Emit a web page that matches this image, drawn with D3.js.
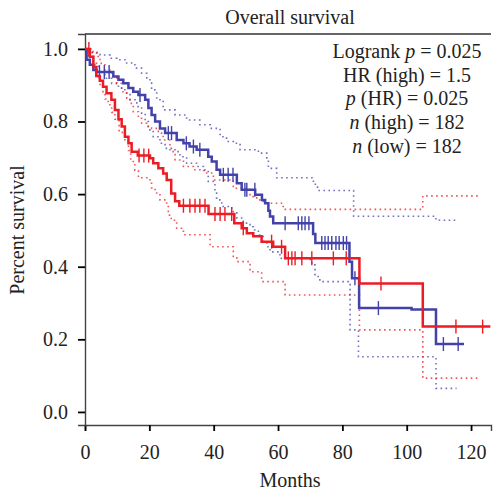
<!DOCTYPE html>
<html>
<head>
<meta charset="utf-8">
<script src="https://cdn.jsdelivr.net/npm/d3@7"></script>
<style>
  body { margin: 0; background: #fff; }
  svg { font-family: "Liberation Serif", "Times New Roman", serif; }
</style>
</head>
<body>
<div id="chart"></div>
<script>
const width = 494;
const height = 494;
const margin = { top: 34, right: 3, bottom: 69, left: 85 };
const fontSize = 20;

const xTicks = [0, 20, 40, 60, 80, 100, 120];
const yTicks = [0, 0.2, 0.4, 0.6, 0.8, 1.0];

// high group (red): [month, survival]
const highSteps = [[0,1],[1.5,0.978],[2.6,0.95],[3.5,0.925],[4.6,0.912],[5.6,0.896],[6.7,0.878],[8.2,0.86],[9.3,0.832],[10.4,0.806],[11.4,0.786],[12.4,0.758],[13.5,0.74],[14.5,0.717],[16.4,0.706],[20.2,0.699],[21.2,0.685],[22.8,0.671],[24.3,0.657],[25.4,0.639],[26.8,0.602],[28,0.58],[29.3,0.568],[38.4,0.545],[46.4,0.52],[48.7,0.506],[50.3,0.492],[52.3,0.484],[54.9,0.469],[58.5,0.455],[62.2,0.423],[85.3,0.354],[105,0.235],[126,0.235]];
const highCensor = [1.2, 16.8, 18.3, 19.8, 30.6, 32.6, 34.2, 35.7, 37.3, 40.4, 42, 43.5, 45.6, 49.2, 58, 61.1, 63.2, 64.3, 65.3, 67.4, 70.5, 77.2, 81.2, 92, 115.3, 123.6];
const highUpper = [[0,1],[2.5,0.99],[3.6,0.979],[4.7,0.96],[6.2,0.942],[8.3,0.924],[9.9,0.905],[11.4,0.882],[13,0.864],[14,0.85],[15,0.827],[16.6,0.809],[17.6,0.795],[19.2,0.786],[20.7,0.781],[22.8,0.768],[24.3,0.749],[26.4,0.722],[28,0.694],[30.6,0.676],[33.7,0.667],[37.8,0.658],[39.9,0.639],[46.1,0.616],[51.3,0.593],[53.4,0.584],[55.4,0.575],[61.6,0.558],[105,0.595],[123,0.595]];
const highLower = [[0,1],[1,0.99],[2.6,0.96],[3.6,0.924],[4.7,0.896],[5.6,0.875],[6.2,0.862],[7.2,0.846],[8.3,0.825],[9.3,0.806],[10.6,0.77],[12.4,0.745],[13.5,0.72],[14.2,0.69],[15.5,0.665],[16.6,0.645],[20.2,0.63],[20.7,0.617],[21.8,0.603],[23.3,0.584],[25.4,0.566],[25.9,0.542],[26.8,0.528],[28.5,0.506],[30.6,0.488],[38.9,0.455],[46.1,0.428],[47.2,0.414],[51.3,0.386],[54.9,0.359],[62.2,0.322],[85.3,0.226],[105,0.093],[122,0.093]];

// low group (blue)
const lowSteps = [[0,1],[0.5,0.97],[1.5,0.956],[2.6,0.942],[3.6,0.936],[8.8,0.924],[10.4,0.915],[11.9,0.905],[13.5,0.892],[15,0.882],[16.6,0.873],[18.7,0.86],[19.7,0.837],[20.7,0.818],[21.8,0.8],[23.3,0.781],[24.9,0.768],[28.5,0.749],[30.6,0.74],[32.5,0.731],[34.7,0.722],[38.3,0.703],[39.4,0.69],[40.9,0.667],[42,0.653],[47.2,0.63],[48.7,0.612],[52.9,0.598],[55,0.584],[56,0.575],[57,0.554],[57.5,0.538],[58.5,0.52],[70.9,0.49],[71.6,0.465],[82.2,0.414],[83,0.368],[85.2,0.286],[101.5,0.282],[109.1,0.187],[117.8,0.187]];
const lowCensor = [4.5, 6, 7.5, 17.1, 25.9, 26.9, 31.5, 33.7, 35.7, 43, 44.5, 46, 49.7, 50.3, 52.8, 62.2, 66.3, 67.4, 68.4, 69.6, 73.6, 74.6, 75.6, 76.7, 78, 79, 80.3, 81.3, 83.9, 91.2, 111.4, 116];
const lowUpper = [[0,1],[1.5,0.99],[4.7,0.983],[7.8,0.974],[9.9,0.97],[12.4,0.961],[15.5,0.947],[17.6,0.933],[19.2,0.915],[20.7,0.887],[22.3,0.86],[24.3,0.832],[28,0.818],[31.6,0.804],[35.7,0.791],[38.9,0.781],[42,0.758],[44,0.745],[46.1,0.74],[48.2,0.722],[53.9,0.713],[56.5,0.694],[57,0.671],[59.6,0.645],[71,0.627],[72.3,0.61],[83.5,0.539],[109.1,0.528],[115.5,0.528]];
const lowLower = [[0,1],[0.5,0.98],[1.2,0.97],[2.6,0.956],[4.1,0.937],[6.2,0.919],[8.3,0.905],[10.4,0.892],[12.4,0.878],[14,0.86],[16.1,0.841],[17.6,0.823],[18.7,0.8],[19.7,0.777],[21.2,0.758],[23.3,0.74],[24.9,0.726],[27.4,0.717],[29.5,0.703],[31.6,0.685],[34.7,0.676],[36.8,0.665],[38.3,0.635],[40.4,0.612],[40.9,0.584],[42.5,0.566],[45.6,0.552],[47.2,0.534],[49.2,0.52],[51.3,0.51],[52.3,0.501],[53.9,0.487],[55.4,0.47],[56.5,0.455],[57.5,0.441],[60.6,0.423],[70,0.414],[70.5,0.405],[71.5,0.373],[73,0.359],[82.4,0.226],[85,0.152],[109.1,0.065],[115.5,0.065]];

const statLines = [
  [["Logrank ", false], ["p", true], [" = 0.025", false]],
  [["HR (high) = 1.5", false]],
  [["p", true], [" (HR) = 0.025", false]],
  [["n", true], [" (high) = 182", false]],
  [["n", true], [" (low) = 182", false]]
];

const red = "#ec1c24";
const blue = "#4242aa";

const svg = d3.select("#chart").append("svg")
  .attr("width", width)
  .attr("height", height);

const x = d3.scaleLinear()
  .domain([0, 126.2])
  .range([margin.left, width - margin.right]);

const y = d3.scaleLinear()
  .domain([-0.036, 1.041])
  .range([height - margin.bottom, margin.top]);

// frame: top line
svg.append("line")
  .attr("x1", margin.left).attr("x2", width - margin.right)
  .attr("y1", margin.top).attr("y2", margin.top)
  .attr("stroke", "#333").attr("stroke-width", 1.3);

// x axis
const gx = svg.append("g")
  .attr("transform", `translate(0, ${height - margin.bottom})`)
  .call(d3.axisBottom(x).tickValues(xTicks).tickSize(6).tickPadding(14).tickFormat(d3.format("d")));
gx.select(".domain").attr("stroke", "#444").attr("stroke-width", 1.4);
gx.selectAll(".tick line").attr("stroke", "#000").attr("stroke-width", 1.8);
gx.selectAll("text").attr("font-size", fontSize).attr("font-family", "Liberation Serif").attr("fill", "#222");

// y axis
const gy = svg.append("g")
  .attr("transform", `translate(${margin.left}, 0)`)
  .call(d3.axisLeft(y).tickValues(yTicks).tickSize(7).tickPadding(10).tickFormat(d3.format(".1f")));
gy.select(".domain").attr("stroke", "#444").attr("stroke-width", 1.4);
gy.selectAll(".tick line").attr("stroke", "#000").attr("stroke-width", 1.8);
gy.selectAll("text").attr("font-size", fontSize).attr("font-family", "Liberation Serif").attr("fill", "#222");

// titles
svg.append("text")
  .attr("x", 290).attr("y", 24)
  .attr("text-anchor", "middle")
  .attr("font-size", fontSize).attr("fill", "#222")
  .text("Overall survival");

svg.append("text")
  .attr("x", 290).attr("y", 487)
  .attr("text-anchor", "middle")
  .attr("font-size", fontSize).attr("fill", "#222")
  .text("Months");

svg.append("text")
  .attr("transform", `translate(24, 230) rotate(-90)`)
  .attr("text-anchor", "middle")
  .attr("font-size", fontSize).attr("fill", "#222")
  .text("Percent survival");

const stepLine = d3.line()
  .x((d) => x(d[0]))
  .y((d) => y(d[1]))
  .curve(d3.curveStepAfter);

function drawCI(data, color) {
  svg.append("path")
    .datum(data)
    .attr("d", stepLine)
    .attr("fill", "none")
    .attr("stroke", color)
    .attr("stroke-opacity", 0.75)
    .attr("stroke-width", 1.6)
    .attr("stroke-dasharray", "1.6 3.4");
}

function drawCurve(data, censor, color) {
  svg.append("path")
    .datum(data)
    .attr("d", stepLine)
    .attr("fill", "none")
    .attr("stroke", color)
    .attr("stroke-width", 2.5);
  const bis = d3.bisector((d) => d[0]).right;
  svg.append("g")
    .selectAll("line")
    .data(censor)
    .enter()
    .append("line")
    .attr("x1", (t) => x(t)).attr("x2", (t) => x(t))
    .attr("y1", (t) => y(data[bis(data, t) - 1][1]) - 7)
    .attr("y2", (t) => y(data[bis(data, t) - 1][1]) + 7)
    .attr("stroke", color)
    .attr("stroke-width", 1.4);
}

drawCI(lowUpper, blue);
drawCI(lowLower, blue);
drawCI(highUpper, red);
drawCI(highLower, red);
drawCurve(lowSteps, lowCensor, blue);
drawCurve(highSteps, highCensor, red);

// stats text
const stats = svg.append("g");
statLines.forEach((parts, i) => {
  const t = stats.append("text")
    .attr("x", 407).attr("y", 58 + i * 23.7)
    .attr("text-anchor", "middle")
    .attr("font-size", fontSize).attr("fill", "#222");
  parts.forEach(([s, it]) => {
    t.append("tspan").attr("font-style", it ? "italic" : "normal").text(s);
  });
});
</script>
</body>
</html>
